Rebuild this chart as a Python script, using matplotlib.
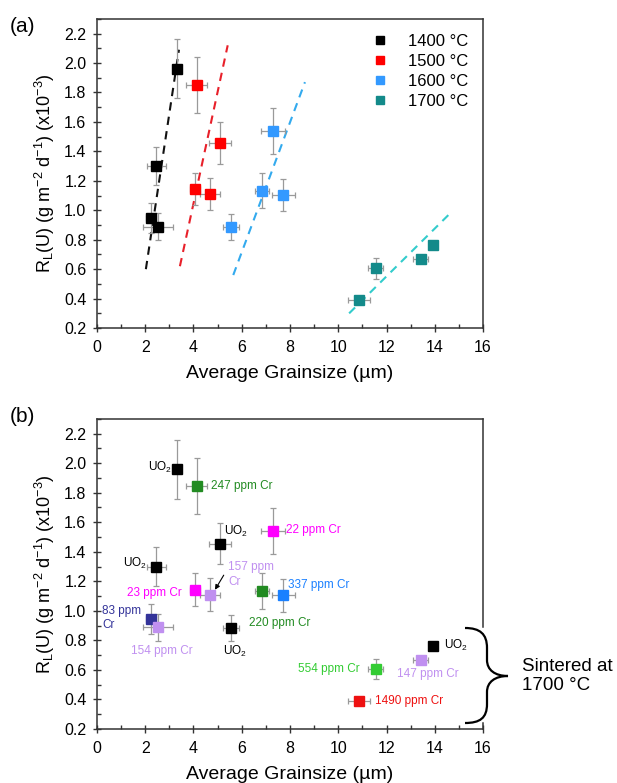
import matplotlib

matplotlib.use("Agg")
import matplotlib.pyplot as plt
import numpy as np
from matplotlib.path import Path
from matplotlib.patches import PathPatch
from matplotlib.lines import Line2D
from matplotlib.ticker import MultipleLocator, FormatStrFormatter
from matplotlib.transforms import offset_copy

plt.rcParams["font.family"] = ["Liberation Sans", "DejaVu Sans"]
plt.rcParams["mathtext.fontset"] = "custom"
plt.rcParams["mathtext.rm"] = "Liberation Sans"
plt.rcParams["mathtext.it"] = "Liberation Sans:italic"

# ---- data (grain size in um, leach rate in 1e-3 g m-2 d-1) ----
grain = [2.24, 2.52, 2.47, 3.30, 4.06, 4.68, 5.10, 4.13,
         5.55, 6.83, 7.72, 7.31, 10.87, 11.56, 13.41, 13.94]
grain_err = [0.22, 0.62, 0.40, 0.12, 0.20, 0.42, 0.47, 0.45,
             0.32, 0.30, 0.48, 0.50, 0.46, 0.31, 0.32, 0.10]
rate = [0.946, 0.889, 1.30, 1.96, 1.143, 1.11, 1.456, 1.848,
        0.885, 1.134, 1.105, 1.54, 0.39, 0.606, 0.669, 0.765]
rate_err = [0.10, 0.09, 0.13, 0.20, 0.11, 0.11, 0.14, 0.19,
            0.09, 0.12, 0.11, 0.155, 0.02, 0.07, 0.02, 0.02]
sinter_temp = [1400, 1400, 1400, 1400, 1500, 1500, 1500, 1500,
               1600, 1600, 1600, 1600, 1700, 1700, 1700, 1700]
cr_label = ["83 ppm\nCr", "154 ppm Cr", "UO$_2$", "UO$_2$", "23 ppm Cr", "157 ppm\nCr", "UO$_2$", "247 ppm Cr",
            "UO$_2$", "220 ppm Cr", "337 ppm Cr", "22 ppm Cr", "1490 ppm Cr", "554 ppm Cr", "147 ppm Cr", "UO$_2$"]

# dashed trend lines per sintering temperature (end points)
temps = [1400, 1500, 1600, 1700]
fit_x = [(2.03, 3.40), (3.44, 5.42), (5.65, 8.62), (10.45, 14.70)]
fit_y = [(0.60, 2.09), (0.62, 2.12), (0.56, 1.87), (0.30, 0.99)]

TEMP_COLORS = {1400: "#000000", 1500: "#ff0000", 1600: "#3399ff", 1700: "#138a8a"}
FIT_COLORS = {1400: "#111111", 1500: "#e8202a", 1600: "#33aaee", 1700: "#33cccc"}
CR_COLORS = ["#333399", "#c090f0", "#000000", "#000000", "#ff00ff", "#c090f0", "#000000", "#228b22",
             "#000000", "#228b22", "#1a80ff", "#ff00ff", "#ee1111", "#33cc33", "#c090f0", "#000000"]
# label offsets (points) and alignment for panel (b)
LABEL_POS = [((-35, 0.5), "left"), ((-19, -17), "left"), ((-6.5, 2.5), "right"), ((-3.5, 1.5), "right"),
             ((-9.5, -2.5), "right"), ((13, 14.5), "left"), ((3, 8.5), "left"), ((10.5, 0), "left"),
             ((3, -17), "center"), ((-9, -22.7), "left"), ((3.7, 7.5), "left"), ((9, 0.5), "left"),
             ((11.5, 0), "left"), ((-11.5, 0), "right"), ((-17, -10.5), "left"), ((7.7, 0), "left")]

ERR = dict(ecolor="#9a9a9a", elinewidth=0.9, capsize=2.2, capthick=0.9, ls="none")
YLABEL = "R$_\\mathregular{L}$(U) (g m$^{-2}$ d$^{-1}$) (x10$^{-3}$)"
W, H = 617.0, 783.0

fig = plt.figure(figsize=(6.17, 7.83), dpi=100, facecolor="white")
ax_a = fig.add_axes([0.157, 0.581, 0.626, 0.395])
ax_b = fig.add_axes([0.157, 0.069, 0.626, 0.396])


def style(ax):
    ax.set_xlim(0, 16)
    ax.set_ylim(0.2, 2.3)
    ax.set_xticks(np.arange(0, 17, 2))
    ax.set_yticks(np.arange(0.2, 2.21, 0.2))
    ax.yaxis.set_major_formatter(FormatStrFormatter("%.1f"))
    ax.xaxis.set_minor_locator(MultipleLocator(1))
    ax.yaxis.set_minor_locator(MultipleLocator(0.1))
    ax.tick_params(which="major", direction="inout", length=6, width=1, labelsize=11.5, color="#333333")
    ax.tick_params(axis="x", which="major", pad=5.5)
    ax.tick_params(axis="y", which="major", pad=4.5)
    ax.tick_params(which="minor", direction="in", length=3, width=1, color="#333333")
    for s in ax.spines.values():
        s.set_linewidth(1.1)
        s.set_color("#333333")
    ax.set_xlabel("Average Grainsize (µm)", fontsize=14, labelpad=7)
    ax.set_ylabel(YLABEL, fontsize=13, labelpad=5)


g = np.array(grain)
ge = np.array(grain_err)
r = np.array(rate)
re_ = np.array(rate_err)
st = np.array(sinter_temp)

# ---- (a) ----
style(ax_a)
for t, fx, fy in zip(temps, fit_x, fit_y):
    ax_a.plot(fx, fy, ls=(0, (4, 3)), color=FIT_COLORS[t], lw=1.5, zorder=2)
for t in temps:
    m = st == t
    ax_a.errorbar(g[m], r[m], xerr=ge[m], yerr=re_[m], zorder=3, **ERR)
    ax_a.plot(g[m], r[m], "s", color=TEMP_COLORS[t], ms=6.5, zorder=4, label=f"{t} °C")
ax_a.legend(loc="upper right", bbox_to_anchor=(1.0, 1.0), frameon=False, fontsize=12,
            handlelength=1.0, handletextpad=1.2, labelspacing=0.3, markerscale=0.9)

# ---- (b) ----
style(ax_b)
ax_b.errorbar(g, r, xerr=ge, yerr=re_, zorder=3, **ERR)
for xi, yi, lab, col, (off, ha) in zip(grain, rate, cr_label, CR_COLORS, LABEL_POS):
    ax_b.plot(xi, yi, "s", color=col, ms=6.5, zorder=4)
    ax_b.annotate(lab, (xi, yi), xytext=off, textcoords="offset points", ha=ha, va="center",
                  fontsize=8.5, color=col, linespacing=1.25, zorder=5)

# small arrow pointing at the 157 ppm point
i157 = cr_label.index("157 ppm\nCr")
tip = offset_copy(ax_b.transData, fig=fig, x=3.7, y=3.5, units="points")
tail = offset_copy(ax_b.transData, fig=fig, x=10, y=14, units="points")
fig.canvas.draw()
p0 = tail.transform((grain[i157], rate[i157]))
p1 = tip.transform((grain[i157], rate[i157]))
ax_b.annotate("", xy=p1, xytext=p0, xycoords="figure pixels", textcoords="figure pixels",
              arrowprops=dict(arrowstyle="-|>", color="black", lw=0.8, mutation_scale=7,
                              shrinkA=0, shrinkB=0))

# right spine interrupted by the brace
ax_b.spines["right"].set_bounds(0.89, 2.3)
ax_b.add_line(Line2D([1, 1], [0, 0.04 / 2.1], transform=ax_b.transAxes, color="#333333",
                     lw=1.1, clip_on=False))


def px(x, y):
    return (x / W, 1 - y / H)


verts = [px(465, 628), px(480, 628), px(487, 634), px(487, 648), px(487, 660),
         px(487, 670), px(495, 676), px(508, 676),
         px(495, 676), px(487, 682), px(487, 692), px(487, 704),
         px(487, 718), px(480, 723), px(465, 723)]
codes = [Path.MOVETO, Path.CURVE4, Path.CURVE4, Path.CURVE4, Path.LINETO,
         Path.CURVE4, Path.CURVE4, Path.CURVE4,
         Path.CURVE4, Path.CURVE4, Path.CURVE4, Path.LINETO,
         Path.CURVE4, Path.CURVE4, Path.CURVE4]
fig.add_artist(PathPatch(Path(verts, codes), transform=fig.transFigure, fill=False,
                         lw=1.6, edgecolor="black"))
fig.text(521.7 / W, 1 - 676 / H, "Sintered at\n1700 °C", fontsize=13.5, ha="left", va="center",
         linespacing=1.1)

fig.text(10 / W, 1 - 27 / H, "(a)", fontsize=15, ha="left", va="center")
fig.text(10 / W, 1 - 416 / H, "(b)", fontsize=15, ha="left", va="center")

fig.savefig("out.png", dpi=100, facecolor="white")
